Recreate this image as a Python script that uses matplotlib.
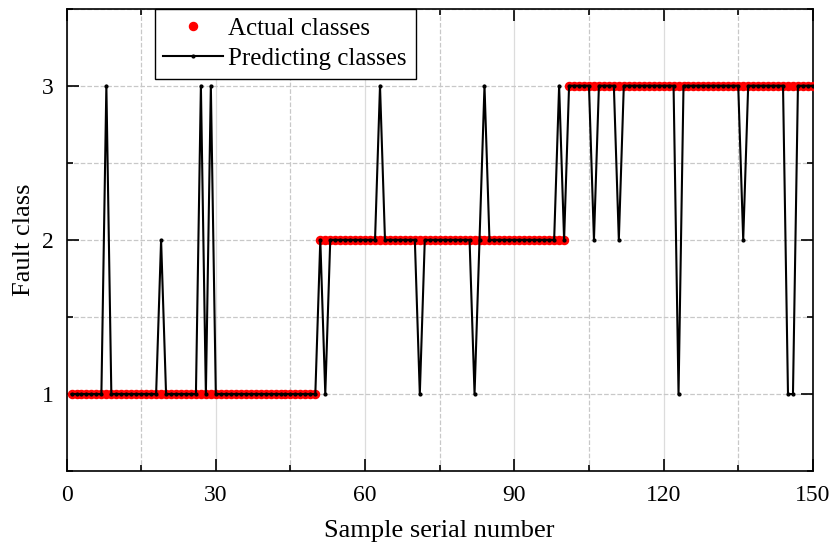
import matplotlib.pyplot as plt
from matplotlib.ticker import MultipleLocator

# sample numbers 1..150
samples = list(range(1, 151))

actual_classes = [
    1, 1, 1, 1, 1, 1, 1, 1, 1, 1, 1, 1, 1, 1, 1, 1, 1, 1, 1, 1, 1, 1, 1, 1, 1,
    1, 1, 1, 1, 1, 1, 1, 1, 1, 1, 1, 1, 1, 1, 1, 1, 1, 1, 1, 1, 1, 1, 1, 1, 1,
    2, 2, 2, 2, 2, 2, 2, 2, 2, 2, 2, 2, 2, 2, 2, 2, 2, 2, 2, 2, 2, 2, 2, 2, 2,
    2, 2, 2, 2, 2, 2, 2, 2, 2, 2, 2, 2, 2, 2, 2, 2, 2, 2, 2, 2, 2, 2, 2, 2, 2,
    3, 3, 3, 3, 3, 3, 3, 3, 3, 3, 3, 3, 3, 3, 3, 3, 3, 3, 3, 3, 3, 3, 3, 3, 3,
    3, 3, 3, 3, 3, 3, 3, 3, 3, 3, 3, 3, 3, 3, 3, 3, 3, 3, 3, 3, 3, 3, 3, 3, 3,
]

predicted_classes = [
    1, 1, 1, 1, 1, 1, 1, 3, 1, 1, 1, 1, 1, 1, 1, 1, 1, 1, 2, 1, 1, 1, 1, 1, 1,
    1, 3, 1, 3, 1, 1, 1, 1, 1, 1, 1, 1, 1, 1, 1, 1, 1, 1, 1, 1, 1, 1, 1, 1, 1,
    2, 1, 2, 2, 2, 2, 2, 2, 2, 2, 2, 2, 3, 2, 2, 2, 2, 2, 2, 2, 1, 2, 2, 2, 2,
    2, 2, 2, 2, 2, 2, 1, 2, 3, 2, 2, 2, 2, 2, 2, 2, 2, 2, 2, 2, 2, 2, 2, 3, 2,
    3, 3, 3, 3, 3, 2, 3, 3, 3, 3, 2, 3, 3, 3, 3, 3, 3, 3, 3, 3, 3, 3, 1, 3, 3,
    3, 3, 3, 3, 3, 3, 3, 3, 3, 3, 2, 3, 3, 3, 3, 3, 3, 3, 3, 1, 1, 3, 3, 3, 3,
]

x_ticks = [0, 30, 60, 90, 120, 150]
y_ticks = [1, 2, 3]

plt.rcParams['font.family'] = ['Liberation Serif', 'DejaVu Serif']
plt.rcParams['font.size'] = 17

fig = plt.figure(figsize=(8.32, 5.44), dpi=100)
ax = fig.add_axes([0.08, 0.134, 0.897, 0.85])

ax.plot(samples, actual_classes, 'o', color='red', markersize=5.8,
        label='Actual classes', zorder=3)
ax.plot(samples, predicted_classes, '-', color='black', linewidth=1.5,
        marker='o', markersize=2, label='Predicting classes', zorder=4)

ax.set_xlim(0, 150)
ax.set_ylim(0.5, 3.5)
ax.set_xticks(x_ticks)
ax.set_yticks(y_ticks)
ax.xaxis.set_minor_locator(MultipleLocator(15))
ax.yaxis.set_minor_locator(MultipleLocator(0.5))

ax.tick_params(which='both', direction='in', top=True, right=True, width=1.2)
ax.tick_params(which='major', length=8.5, labelsize=17)
ax.tick_params(axis='x', which='major', pad=10)
ax.tick_params(axis='y', which='major', pad=9)
ax.tick_params(which='minor', length=4.3)
for s in ax.spines.values():
    s.set_linewidth(1.2)

ax.grid(axis='x', which='major', color='#dcdcdc', linestyle='-', linewidth=0.9)
ax.grid(axis='y', which='major', color='#c8c8c8', linestyle='--', linewidth=0.9)
ax.grid(which='minor', color='#c8c8c8', linestyle='--', linewidth=0.9)
ax.set_axisbelow(True)

ax.set_xlabel('Sample serial number', fontsize=19, labelpad=10)
ax.set_ylabel('Fault class', fontsize=19, labelpad=5)

leg = ax.legend(loc='upper left', bbox_to_anchor=(0.118, 1.0), borderaxespad=0,
                fancybox=False, edgecolor='black', framealpha=1, numpoints=1,
                handlelength=2.4, handletextpad=0.2, fontsize=18,
                labelspacing=0.3, borderpad=0.35)
leg.get_frame().set_linewidth(1.0)

plt.savefig('out.png')
